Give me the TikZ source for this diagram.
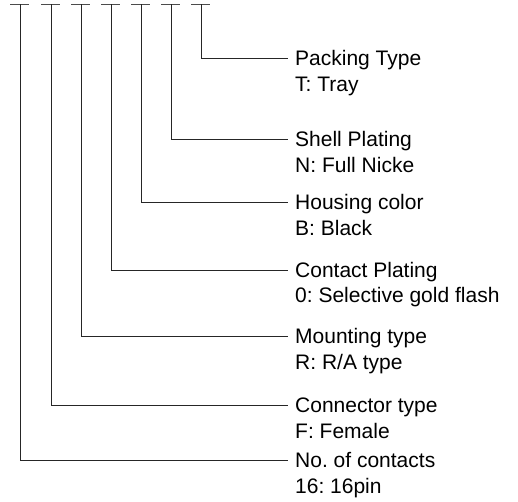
\documentclass[tikz,border=0pt]{standalone}
\usepackage{fontspec}
\setmainfont{Liberation Sans}
\usetikzlibrary{calc}
\frenchspacing
\begin{document}
\begin{tikzpicture}[x=1pt,y=-1pt,
  wire/.style={draw=black!85,line width=1pt},
  tick/.style={draw=black!70,line width=1pt},
  lbl/.style={anchor=base west,inner sep=0pt,font=\fontsize{21}{25}\selectfont,text=black},
  desc/.style={anchor=base west,inner sep=0pt,font=\fontsize{21}{25}\selectfont,text=black}]
\useasboundingbox (0,0) rectangle (518,501);
% top coordinates of the seven code positions
\foreach \i/\x in {1/20,2/51,3/81,4/111,5/141,6/171,7/201}{
  \coordinate (t\i) at (\x,4);
  \draw[tick] ($(t\i)+(-10,0)$) -- ($(t\i)+(9,0)$);
}
% labels
\node[lbl] (l7) at (295,65) {Packing Type};
\node[desc] (d7) at (295,91) {T: Tray};
\node[lbl] (l6) at (295,146) {Shell Plating};
\node[desc] (d6) at (295,172) {N: Full Nicke};
\node[lbl] (l5) at (295,209) {Housing color};
\node[desc] (d5) at (295,235) {B: Black};
\node[lbl] (l4) at (295,277) {Contact Plating};
\node[desc] (d4) at (295,302) {0: Selective gold flash};
\node[lbl] (l3) at (295,343) {Mounting type};
\node[desc] (d3) at (295,369) {R: R/A type};
\node[lbl] (l2) at (295,412) {Connector type};
\node[desc] (d2) at (295,438) {F: Female};
\node[lbl] (l1) at (295,467) {No. of contacts};
\node[desc] (d1) at (295,493) {16: 16pin};
% connectors
\foreach \i in {1,...,7}{
  \draw[wire] (t\i) |- ([xshift=-7pt,yshift=7pt]l\i.base west);
}
\end{tikzpicture}
\end{document}
